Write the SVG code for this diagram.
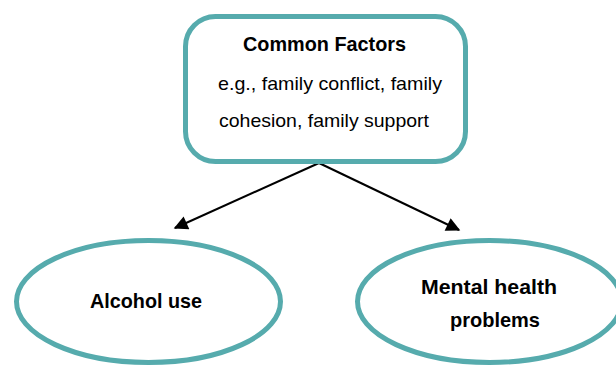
<svg xmlns="http://www.w3.org/2000/svg" width="616" height="367" viewBox="0 0 616 367">
<defs>
<style>
.node{fill:#fff;stroke:#56abad;stroke-width:5}
.t{font-family:"Liberation Sans",Arial,sans-serif;fill:#000}
.b{font-weight:bold}
.conn{stroke:#000;stroke-width:2;fill:none}
</style>
<marker id="ah" viewBox="0 0 10 10" refX="9" refY="5" markerWidth="8" markerHeight="7" orient="auto" markerUnits="strokeWidth">
<path d="M0,0 L10,5 L0,10 Z" fill="#000"/>
</marker>
</defs>
<rect width="616" height="367" fill="#fff"/>
<g id="connectors">
<line class="conn" x1="319" y1="163" x2="175" y2="228" marker-end="url(#ah)"/>
<line class="conn" x1="319" y1="163" x2="459" y2="230" marker-end="url(#ah)"/>
</g>
<g id="common-factors">
<rect class="node" x="185.5" y="16.5" width="280" height="145" rx="30" ry="30"/>
<text class="t b" x="243" y="51" font-size="20.5" textLength="163" lengthAdjust="spacingAndGlyphs">Common Factors</text>
<text class="t" x="218" y="90" font-size="19" textLength="224" lengthAdjust="spacingAndGlyphs">e.g., family conflict, family</text>
<text class="t" x="219" y="127" font-size="19" textLength="210" lengthAdjust="spacingAndGlyphs">cohesion, family support</text>
</g>
<g id="alcohol-use">
<ellipse class="node" cx="148.5" cy="301.5" rx="132" ry="61"/>
<text class="t b" x="90" y="308" font-size="21" textLength="112" lengthAdjust="spacingAndGlyphs">Alcohol use</text>
</g>
<g id="mental-health">
<ellipse class="node" cx="489.5" cy="301.5" rx="132" ry="61"/>
<text class="t b" x="421" y="294" font-size="21" textLength="136" lengthAdjust="spacingAndGlyphs">Mental health</text>
<text class="t b" x="450" y="327" font-size="21" textLength="90" lengthAdjust="spacingAndGlyphs">problems</text>
</g>
</svg>
